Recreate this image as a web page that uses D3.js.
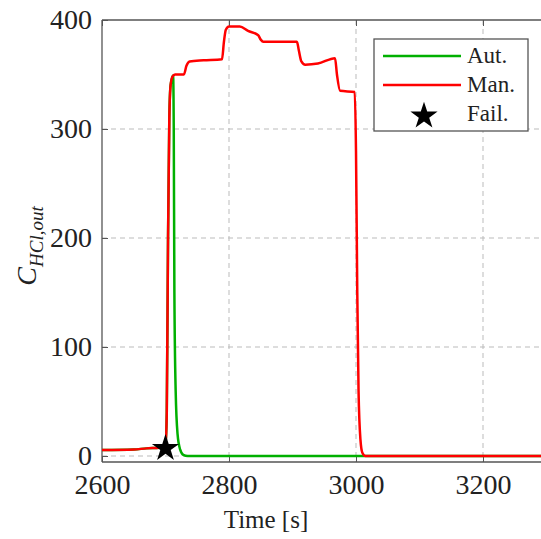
<!DOCTYPE html>
<html>
<head>
<meta charset="utf-8">
<script src="https://cdn.jsdelivr.net/npm/d3@7"></script>
<style>
  body { margin: 0; background: #fff; }
  svg text { font-family: 'Liberation Serif', 'DejaVu Serif', serif; fill: #222; }
</style>
</head>
<body>
<svg width="541" height="539"></svg>
<script>
// time [s] and concentration
var manT = [2600, 2650, 2670, 2690, 2700, 2702, 2704, 2706, 2708, 2711, 2715, 2729, 2733, 2738, 2760, 2789, 2792, 2795, 2800, 2817, 2830, 2846, 2850, 2854, 2880, 2907, 2910, 2914, 2920, 2940, 2967, 2970, 2975, 2998, 3000, 3002, 3004, 3007, 3010, 3015, 3400];
var manC = [5.5, 6, 7, 7.5, 8, 40, 200, 310, 340, 348, 350, 350, 358, 362, 363, 364, 380, 391, 394, 394, 390, 386, 382, 380, 380, 380, 372, 362, 359, 360, 365, 350, 335, 334, 280, 150, 60, 15, 3, 0, 0];
var autT = [2600, 2650, 2670, 2690, 2700, 2702, 2704, 2706, 2708, 2711, 2712, 2713, 2714, 2716, 2719, 2723, 2728, 2735, 3400];
var autC = [5.5, 6, 7, 7.5, 8, 40, 200, 310, 340, 348, 349, 300, 150, 60, 20, 6, 1, 0, 0];
var failPoint = [2700, 7];
var xTicks = [2600, 2800, 3000, 3200];
var yTicks = [0, 100, 200, 300, 400];

var svg = d3.select("svg"),
    mLeft = 102, mTop = 20, mBottom = 462;

var x = d3.scaleLinear().domain([2600, 3400]).range([mLeft, mLeft + 127 * 4]);
var y = d3.scaleLinear().domain([-5.5, 400]).range([mBottom, mTop]);

svg.append("clipPath").attr("id", "plot")
  .append("rect").attr("x", mLeft).attr("y", mTop).attr("width", 541 - mLeft).attr("height", mBottom - mTop);

// grid
var grid = svg.append("g").attr("stroke", "#bbb").attr("stroke-dasharray", "5,4").attr("stroke-width", 1);
grid.selectAll(".gx").data(xTicks.slice(1)).enter().append("line")
  .attr("x1", d => x(d)).attr("x2", d => x(d)).attr("y1", mTop).attr("y2", mBottom);
grid.selectAll(".gy").data(yTicks.slice(0, -1)).enter().append("line")
  .attr("x1", mLeft).attr("x2", 541).attr("y1", d => y(d)).attr("y2", d => y(d));

// axes (ticks inward, box)
var axB = svg.append("g").attr("transform", "translate(0," + mBottom + ")")
  .call(d3.axisBottom(x).tickValues(xTicks).tickSize(-6).tickPadding(12).tickFormat(d3.format("d")));
var axT = svg.append("g").attr("transform", "translate(0," + mTop + ")")
  .call(d3.axisTop(x).tickValues(xTicks).tickSize(-6).tickFormat(""));
var axL = svg.append("g").attr("transform", "translate(" + mLeft + ",0)")
  .call(d3.axisLeft(y).tickValues(yTicks).tickSize(-6).tickPadding(10));
[axB, axT, axL].forEach(function(a) {
  a.attr("font-family", null).attr("font-size", null);
  a.select(".domain").attr("stroke", "#555").attr("stroke-width", 1.3);
  a.selectAll(".tick line").attr("stroke", "#555");
  a.selectAll("text").style("font-size", "28px").attr("fill", "#222");
});
axB.select(".domain").attr("d", "M" + mLeft + ",0H600");
axT.select(".domain").attr("d", "M" + mLeft + ",0H600");
axL.select(".domain").attr("d", "M0," + mBottom + "V" + mTop);

var line = d3.line().x(d => x(d[0])).y(d => y(d[1])).curve(d3.curveMonotoneX);
var plot = svg.append("g").attr("clip-path", "url(#plot)");

plot.append("path").datum(autT.map((t, i) => [t, autC[i]]))
  .attr("d", line).attr("fill", "none").attr("stroke", "#00b000").attr("stroke-width", 2.5);
plot.append("path").datum(manT.map((t, i) => [t, manC[i]]))
  .attr("d", line).attr("fill", "none").attr("stroke", "#ff0000").attr("stroke-width", 2.5);

var star = d3.symbol().type(d3.symbolStar).size(230);
svg.append("path").attr("d", star)
  .attr("transform", "translate(" + x(failPoint[0]) + "," + y(failPoint[1]) + ")")
  .attr("fill", "#000");

// labels
svg.append("text").attr("x", 266).attr("y", 528).attr("text-anchor", "middle")
  .style("font-size", "25px").text("Time [s]");
var yl = svg.append("text").attr("transform", "translate(36,246) rotate(-90)")
  .attr("text-anchor", "middle").style("font-size", "28px").style("font-style", "italic");
yl.append("tspan").text("C");
yl.append("tspan").attr("dy", 7).style("font-size", "19px").text("HCl,out");

// legend
var lg = svg.append("g").attr("transform", "translate(374,39)");
lg.append("rect").attr("width", 154).attr("height", 92).attr("fill", "#fff").attr("stroke", "#555").attr("stroke-width", 1.3);
var items = [["Aut.", "#00b000"], ["Man.", "#ff0000"], ["Fail.", null]];
items.forEach(function(it, i) {
  var yy = 17 + i * 29;
  if (it[1]) {
    lg.append("line").attr("x1", 9).attr("x2", 87).attr("y1", yy).attr("y2", yy)
      .attr("stroke", it[1]).attr("stroke-width", 2.5);
  } else {
    lg.append("path").attr("d", star).attr("transform", "translate(50," + (yy + 2) + ")").attr("fill", "#000");
  }
  lg.append("text").attr("x", 93).attr("y", yy + 7).style("font-size", "23px").text(it[0]);
});
</script>
</body>
</html>
